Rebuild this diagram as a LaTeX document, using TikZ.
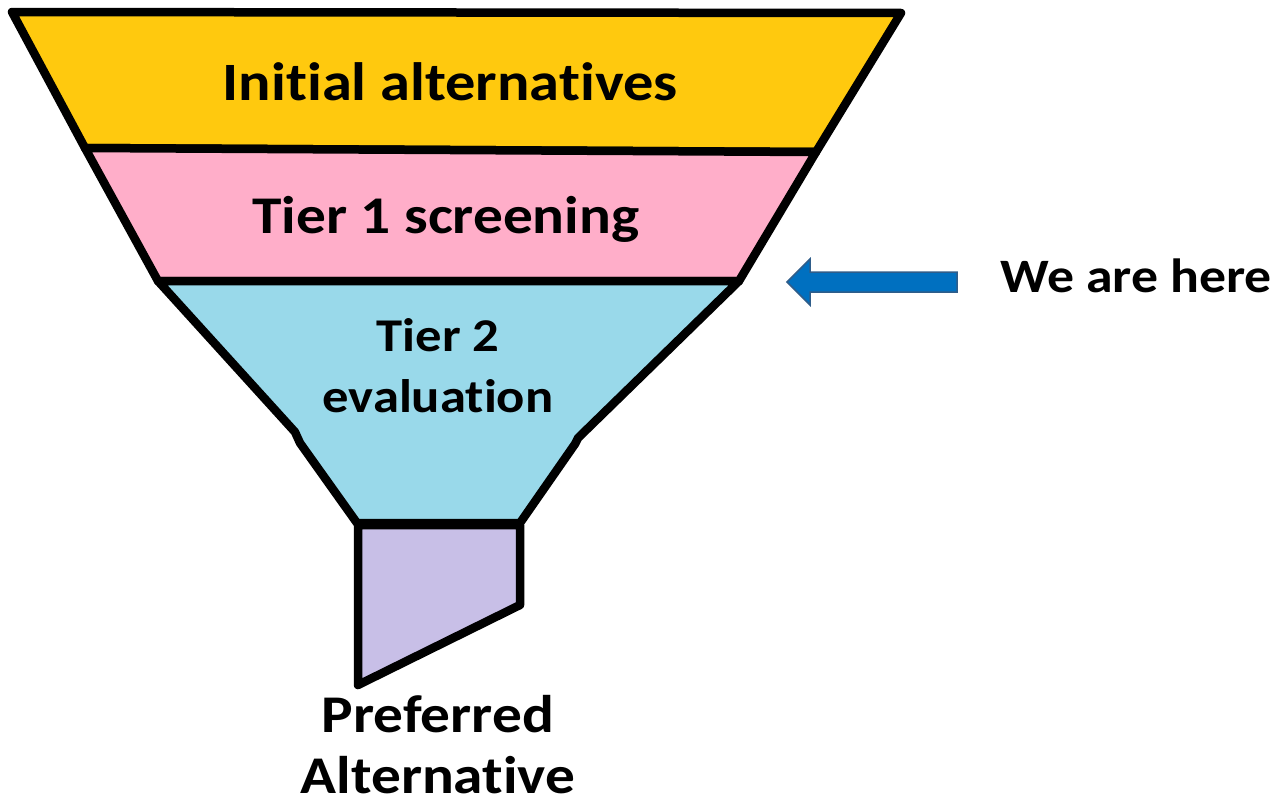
\documentclass[tikz,border=0pt]{standalone}
\usepackage{fontspec}
\setmainfont{Carlito}
\newfontfamily\stagefont{Carlito}[FakeStretch=1.12,Ligatures=NoCommon]
\usepackage{tikz}
\usetikzlibrary{calc}
\definecolor{bandyellow}{HTML}{FFC90E}
\definecolor{bandpink}{HTML}{FFAEC9}
\definecolor{bandblue}{HTML}{99D9EA}
\definecolor{bandpurple}{HTML}{C8BFE7}
\definecolor{arrowblue}{HTML}{0070C0}
\definecolor{arrowedge}{HTML}{2F5D8A}
\newcommand{\lablstage}[5]{\node[stagetext, font=\stagefont\bfseries\fontsize{#4}{61}\selectfont] (#1) at ( #2 , #3 ) {#5};}
\tikzset{
  funnel/.style={draw=black, line width=8.5pt, line join=round, line cap=round},
  stagetext/.style={inner sep=0pt, align=center, text=black}
}
\begin{document}
\begin{tikzpicture}[x=1pt,y=-1pt]
        \useasboundingbox (0,0) rectangle (1273,803);

        % bands
        \filldraw[funnel, fill=bandyellow] (12,12) -- (901,13) -- (816,152) -- (85,148) -- cycle;
        \filldraw[funnel, fill=bandpink] (85,148) -- (816,152) -- (739,281) -- (158,281) -- cycle;
        \filldraw[funnel, fill=bandblue] (158,281) -- (739,281) -- (578,438) -- (575,444)
            -- (520,523) -- (357,523) -- (300,443) -- (295,432) -- cycle;

        % spout
        \filldraw[funnel, fill=bandpurple] (358,525) -- (520,525) -- (520,605) -- (358,685) -- cycle;

        % labels
        \lablstage{initial}{450}{82}{54}{Initial alternatives}
        \lablstage{tierone}{446}{219}{53}{Tier 1 screening}
        \lablstage{tiertwo}{438}{366}{47}{Tier 2\\evaluation}
        \lablstage{preferred}{438}{745}{53}{Preferred\\Alternative}

        % pointer
        \filldraw[fill=arrowblue, draw=arrowedge, line width=1.5pt] (787,282) -- (810,259) -- (810,272)
            -- (957,272) -- (957,292) -- (810,292) -- (810,305) -- cycle;
        \node[stagetext, anchor=base west, font=\stagefont\bfseries\fontsize{48}{58}\selectfont] (here) at (1000,292) {We are here};
\end{tikzpicture}
\end{document}
